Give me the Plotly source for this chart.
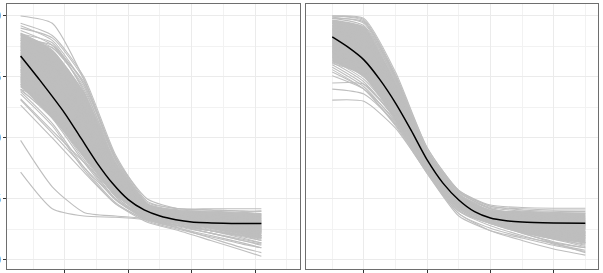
import plotly.graph_objects as go

# ---------------- data ----------------
left_x = [0.6, 1.6, 2.6, 3.6, 4.6, 5.6, 6.6, 7.6, 8.2]
right_x = [1, 2, 3, 4, 5, 6, 7, 8, 9]

left_lines = [
    [1.00, 0.97, 0.74, 0.42, 0.25, 0.21, 0.205, 0.20, 0.20],
    [0.97, 0.92, 0.75, 0.43, 0.24, 0.21, 0.21, 0.21, 0.21],
    [0.96, 0.90, 0.72, 0.42, 0.23, 0.20, 0.19, 0.18, 0.17],
    [0.95, 0.91, 0.74, 0.41, 0.22, 0.19, 0.17, 0.15, 0.14],
    [0.94, 0.88, 0.70, 0.41, 0.23, 0.205, 0.20, 0.195, 0.19],
    [0.93, 0.86, 0.68, 0.39, 0.21, 0.17, 0.14, 0.11, 0.09],
    [0.92, 0.87, 0.71, 0.39, 0.22, 0.19, 0.18, 0.17, 0.165],
    [0.91, 0.84, 0.66, 0.37, 0.21, 0.18, 0.16, 0.14, 0.13],
    [0.90, 0.85, 0.67, 0.38, 0.22, 0.20, 0.195, 0.19, 0.185],
    [0.89, 0.82, 0.64, 0.36, 0.20, 0.16, 0.13, 0.10, 0.08],
    [0.88, 0.83, 0.65, 0.37, 0.215, 0.195, 0.185, 0.18, 0.175],
    [0.875, 0.80, 0.62, 0.35, 0.205, 0.18, 0.17, 0.16, 0.155],
    [0.87, 0.81, 0.63, 0.36, 0.21, 0.19, 0.18, 0.17, 0.16],
    [0.86, 0.79, 0.60, 0.34, 0.20, 0.165, 0.145, 0.125, 0.115],
    [0.85, 0.78, 0.61, 0.35, 0.205, 0.185, 0.175, 0.165, 0.16],
    [0.845, 0.76, 0.58, 0.33, 0.195, 0.16, 0.14, 0.12, 0.10],
    [0.84, 0.77, 0.59, 0.34, 0.20, 0.18, 0.17, 0.16, 0.15],
    [0.83, 0.75, 0.56, 0.32, 0.19, 0.155, 0.13, 0.105, 0.09],
    [0.82, 0.74, 0.57, 0.33, 0.195, 0.175, 0.165, 0.155, 0.15],
    [0.815, 0.72, 0.54, 0.31, 0.19, 0.16, 0.145, 0.13, 0.12],
    [0.81, 0.73, 0.55, 0.32, 0.195, 0.17, 0.155, 0.14, 0.135],
    [0.80, 0.71, 0.52, 0.30, 0.185, 0.15, 0.125, 0.10, 0.085],
    [0.79, 0.70, 0.53, 0.31, 0.19, 0.17, 0.16, 0.15, 0.145],
    [0.78, 0.68, 0.50, 0.30, 0.185, 0.16, 0.14, 0.12, 0.11],
    [0.775, 0.69, 0.51, 0.29, 0.18, 0.145, 0.12, 0.095, 0.08],
    [0.77, 0.67, 0.48, 0.28, 0.18, 0.155, 0.14, 0.125, 0.115],
    [0.76, 0.66, 0.49, 0.29, 0.185, 0.165, 0.155, 0.145, 0.14],
    [0.75, 0.64, 0.46, 0.27, 0.175, 0.14, 0.11, 0.08, 0.065],
    [0.74, 0.65, 0.47, 0.28, 0.18, 0.16, 0.15, 0.14, 0.135],
    [0.735, 0.62, 0.44, 0.26, 0.17, 0.14, 0.12, 0.10, 0.09],
    [0.73, 0.63, 0.45, 0.27, 0.175, 0.15, 0.135, 0.12, 0.11],
    [0.72, 0.60, 0.42, 0.25, 0.165, 0.13, 0.10, 0.07, 0.05],
    [0.71, 0.61, 0.43, 0.26, 0.17, 0.155, 0.145, 0.135, 0.13],
    [0.70, 0.58, 0.40, 0.245, 0.165, 0.135, 0.11, 0.085, 0.07],
    [0.695, 0.59, 0.41, 0.25, 0.17, 0.15, 0.14, 0.13, 0.125],
    [0.69, 0.56, 0.38, 0.235, 0.16, 0.125, 0.095, 0.065, 0.05],
    [0.68, 0.55, 0.37, 0.23, 0.165, 0.14, 0.12, 0.10, 0.095],
    [0.885, 0.87, 0.73, 0.42, 0.235, 0.21, 0.205, 0.20, 0.20],
    [0.925, 0.89, 0.69, 0.40, 0.22, 0.195, 0.19, 0.185, 0.18],
    [0.805, 0.76, 0.60, 0.35, 0.205, 0.18, 0.16, 0.14, 0.13],
    [0.745, 0.70, 0.55, 0.33, 0.195, 0.17, 0.15, 0.13, 0.12],
    [0.70, 0.64, 0.50, 0.30, 0.185, 0.16, 0.15, 0.14, 0.135],
    [0.86, 0.80, 0.58, 0.32, 0.18, 0.14, 0.11, 0.08, 0.06],
    [0.78, 0.72, 0.57, 0.33, 0.19, 0.15, 0.12, 0.09, 0.07],
    [0.90, 0.88, 0.72, 0.41, 0.225, 0.19, 0.165, 0.14, 0.125],
    [0.83, 0.79, 0.64, 0.37, 0.21, 0.17, 0.14, 0.11, 0.10],
    [0.36, 0.21, 0.18, 0.175, 0.165, 0.15, 0.13, 0.11, 0.10],
    [0.49, 0.30, 0.195, 0.18, 0.17, 0.155, 0.14, 0.13, 0.12],
    [0.656, 0.52, 0.38, 0.25, 0.165, 0.14, 0.12, 0.10, 0.09],
    [0.635, 0.50, 0.36, 0.23, 0.155, 0.12, 0.08, 0.04, 0.015],
    [0.66, 0.53, 0.40, 0.27, 0.17, 0.13, 0.09, 0.05, 0.03],
]

right_lines = [
    [1.00, 0.985, 0.76, 0.46, 0.285, 0.225, 0.215, 0.212, 0.212],
    [1.00, 0.98, 0.75, 0.45, 0.28, 0.21, 0.19, 0.18, 0.175],
    [0.995, 0.97, 0.745, 0.445, 0.27, 0.20, 0.17, 0.15, 0.14],
    [0.99, 0.96, 0.75, 0.45, 0.28, 0.22, 0.205, 0.20, 0.198],
    [0.98, 0.95, 0.735, 0.435, 0.26, 0.19, 0.15, 0.12, 0.10],
    [0.975, 0.94, 0.725, 0.44, 0.275, 0.215, 0.20, 0.195, 0.19],
    [0.97, 0.93, 0.715, 0.43, 0.26, 0.195, 0.17, 0.155, 0.145],
    [0.96, 0.92, 0.72, 0.435, 0.265, 0.20, 0.18, 0.17, 0.165],
    [0.955, 0.91, 0.70, 0.425, 0.25, 0.18, 0.14, 0.11, 0.085],
    [0.95, 0.90, 0.695, 0.43, 0.26, 0.205, 0.19, 0.185, 0.18],
    [0.94, 0.89, 0.685, 0.415, 0.25, 0.185, 0.16, 0.14, 0.13],
    [0.935, 0.88, 0.69, 0.42, 0.255, 0.195, 0.175, 0.165, 0.16],
    [0.93, 0.87, 0.675, 0.41, 0.245, 0.175, 0.13, 0.095, 0.07],
    [0.92, 0.86, 0.665, 0.405, 0.24, 0.19, 0.17, 0.16, 0.155],
    [0.915, 0.85, 0.655, 0.40, 0.24, 0.17, 0.135, 0.11, 0.095],
    [0.91, 0.84, 0.66, 0.41, 0.25, 0.19, 0.18, 0.175, 0.17],
    [0.90, 0.83, 0.645, 0.395, 0.23, 0.165, 0.125, 0.10, 0.08],
    [0.895, 0.82, 0.635, 0.40, 0.24, 0.18, 0.16, 0.15, 0.145],
    [0.89, 0.81, 0.64, 0.39, 0.235, 0.17, 0.14, 0.12, 0.11],
    [0.88, 0.80, 0.625, 0.385, 0.23, 0.175, 0.155, 0.145, 0.14],
    [0.875, 0.79, 0.615, 0.39, 0.225, 0.16, 0.12, 0.09, 0.07],
    [0.87, 0.80, 0.63, 0.40, 0.245, 0.185, 0.165, 0.155, 0.15],
    [0.86, 0.78, 0.605, 0.38, 0.225, 0.165, 0.14, 0.125, 0.115],
    [0.855, 0.77, 0.595, 0.375, 0.215, 0.155, 0.115, 0.085, 0.065],
    [0.85, 0.76, 0.60, 0.38, 0.22, 0.16, 0.13, 0.11, 0.10],
    [0.84, 0.77, 0.61, 0.39, 0.23, 0.175, 0.16, 0.15, 0.145],
    [0.83, 0.75, 0.585, 0.37, 0.21, 0.15, 0.11, 0.075, 0.05],
    [0.82, 0.74, 0.59, 0.38, 0.22, 0.17, 0.15, 0.14, 0.135],
    [0.81, 0.73, 0.575, 0.365, 0.205, 0.15, 0.12, 0.10, 0.09],
    [0.80, 0.72, 0.58, 0.37, 0.215, 0.16, 0.14, 0.13, 0.125],
    [0.79, 0.71, 0.565, 0.36, 0.19, 0.13, 0.095, 0.07, 0.05],
    [0.78, 0.70, 0.555, 0.365, 0.20, 0.15, 0.13, 0.12, 0.115],
    [0.77, 0.70, 0.55, 0.355, 0.18, 0.12, 0.09, 0.06, 0.035],
    [0.99, 0.975, 0.755, 0.44, 0.27, 0.21, 0.19, 0.17, 0.16],
    [0.97, 0.955, 0.74, 0.445, 0.28, 0.21, 0.18, 0.15, 0.13],
    [0.945, 0.915, 0.71, 0.435, 0.27, 0.20, 0.165, 0.13, 0.11],
    [0.905, 0.86, 0.68, 0.42, 0.26, 0.19, 0.155, 0.125, 0.105],
    [0.865, 0.82, 0.65, 0.41, 0.25, 0.18, 0.145, 0.115, 0.09],
    [0.835, 0.79, 0.62, 0.39, 0.235, 0.165, 0.125, 0.09, 0.06],
    [0.925, 0.90, 0.70, 0.415, 0.24, 0.17, 0.13, 0.10, 0.075],
    [0.885, 0.84, 0.655, 0.40, 0.235, 0.165, 0.13, 0.105, 0.09],
    [1.00, 0.99, 0.77, 0.46, 0.285, 0.22, 0.21, 0.205, 0.205],
    [0.845, 0.80, 0.64, 0.40, 0.24, 0.18, 0.16, 0.145, 0.135],
    [0.805, 0.76, 0.60, 0.38, 0.225, 0.17, 0.14, 0.115, 0.10],
    [0.96, 0.94, 0.73, 0.44, 0.26, 0.185, 0.14, 0.10, 0.07],
    [0.725, 0.72, 0.58, 0.38, 0.22, 0.16, 0.12, 0.085, 0.055],
    [0.655, 0.65, 0.54, 0.36, 0.21, 0.15, 0.11, 0.07, 0.03],
    [0.70, 0.68, 0.56, 0.355, 0.19, 0.12, 0.08, 0.045, 0.02],
    [0.755, 0.70, 0.57, 0.36, 0.20, 0.14, 0.10, 0.065, 0.04],
]

# dense core of each bundle (upper / lower edge at the same x positions)
left_core_upper = [0.93, 0.86, 0.69, 0.40, 0.23, 0.205, 0.20, 0.195, 0.19]
left_core_lower = [0.71, 0.58, 0.42, 0.26, 0.185, 0.155, 0.13, 0.105, 0.09]
right_core_upper = [0.985, 0.955, 0.725, 0.44, 0.27, 0.205, 0.20, 0.195, 0.195]
right_core_lower = [0.81, 0.75, 0.57, 0.37, 0.22, 0.15, 0.11, 0.085, 0.07]

left_mean_x = [0.6, 1.2, 2.0, 2.5, 3.0, 3.5, 4.0, 4.5, 5.0, 5.5, 6.0, 7.0, 8.2]
left_mean_y = [0.836, 0.738, 0.60, 0.50, 0.40, 0.314, 0.247, 0.205, 0.18, 0.165, 0.156, 0.151, 0.149]
right_mean_x = [1.0, 1.5, 2.0, 2.5, 3.0, 3.5, 4.0, 4.5, 5.0, 5.5, 6.0, 6.5, 7.0, 8.0, 9.0]
right_mean_y = [0.914, 0.872, 0.82, 0.74, 0.643, 0.53, 0.41, 0.315, 0.246, 0.198, 0.172, 0.161, 0.156, 0.152, 0.150]

x_ticks = [2, 4, 6, 8]
x_minor = [1, 3, 5, 7, 9]
y_ticks = [0, 0.25, 0.5, 0.75, 1.0]
y_tick_text = ["0.00", "0.25", "0.50", "0.75", "1.00"]

# ---------------- figure ----------------
GREY = "#BEBEBE"
fig = go.Figure()


def add_panel(xs, lines, core_up, core_lo, mx, my, xa, ya):
    fig.add_trace(go.Scatter(x=xs, y=core_lo, mode="lines", xaxis=xa, yaxis=ya,
                             line=dict(width=0, shape="spline", smoothing=0.6),
                             hoverinfo="skip", showlegend=False))
    fig.add_trace(go.Scatter(x=xs, y=core_up, mode="lines", xaxis=xa, yaxis=ya,
                             fill="tonexty", fillcolor=GREY,
                             line=dict(width=0, shape="spline", smoothing=0.6),
                             hoverinfo="skip", showlegend=False))
    for ys in lines:
        fig.add_trace(go.Scatter(x=xs, y=ys, mode="lines", xaxis=xa, yaxis=ya,
                                 line=dict(color=GREY, width=1.1, shape="spline", smoothing=0.6),
                                 hoverinfo="skip", showlegend=False))
    fig.add_trace(go.Scatter(x=mx, y=my, mode="lines", xaxis=xa, yaxis=ya,
                             line=dict(color="black", width=1.5, shape="spline", smoothing=0.7),
                             showlegend=False))


add_panel(left_x, left_lines, left_core_upper, left_core_lower, left_mean_x, left_mean_y, "x", "y")
add_panel(right_x, right_lines, right_core_upper, right_core_lower, right_mean_x, right_mean_y, "x2", "y2")

xr = [0.18, 9.41]
yr = [-0.037, 1.049]


def xaxis(domain, anchor):
    return dict(domain=domain, anchor=anchor, range=xr, tickvals=x_ticks,
                showticklabels=False, ticks="outside", ticklen=3, tickwidth=1, tickcolor="#333333",
                showgrid=True, gridcolor="#EBEBEB", gridwidth=1,
                minor=dict(tickvals=x_minor, showgrid=True, gridcolor="#F2F2F2", gridwidth=0.6, ticks=""),
                showline=True, linecolor="#6E6E6E", linewidth=1, mirror=True,
                zeroline=False, automargin=False, fixedrange=True)


def yaxis(domain, anchor, labels):
    return dict(domain=domain, anchor=anchor, range=yr, tickvals=y_ticks, ticktext=y_tick_text,
                showticklabels=labels, ticks="outside" if labels else "", ticklen=3, tickwidth=1,
                tickcolor="#333333", tickfont=dict(family="Liberation Sans", size=12, color="#4D4D4D"),
                showgrid=True, gridcolor="#EBEBEB", gridwidth=1,
                minor=dict(tickvals=[0.125, 0.375, 0.625, 0.875], showgrid=True,
                           gridcolor="#F2F2F2", gridwidth=0.6, ticks=""),
                showline=True, linecolor="#6E6E6E", linewidth=1, mirror=True,
                zeroline=False, automargin=False, fixedrange=True)


ydom = [1 - 269 / 273, 1 - 4 / 273]

fig.update_layout(
    width=603, height=273,
    margin=dict(l=0, r=0, t=0, b=0),
    paper_bgcolor="white", plot_bgcolor="white",
    xaxis=xaxis([7.3 / 603, 299.7 / 603], "y"),
    yaxis=yaxis(ydom, "x", True),
    xaxis2=xaxis([306.3 / 603, 598.3 / 603], "y2"),
    yaxis2=yaxis(ydom, "x2", False),
    showlegend=False,
)

fig.write_html("out.html")
